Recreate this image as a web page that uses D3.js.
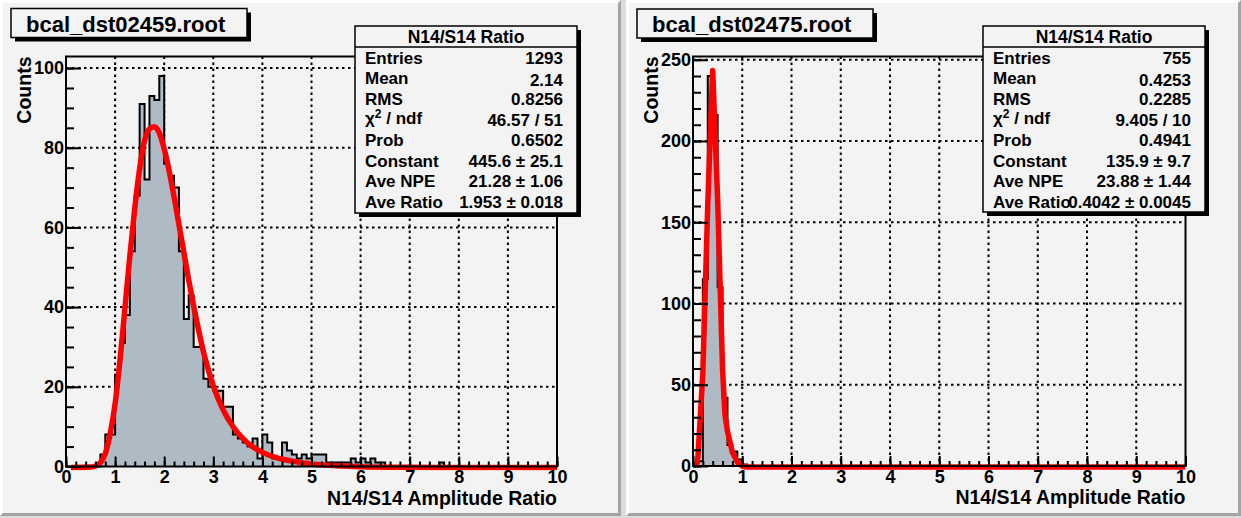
<!DOCTYPE html>
<html><head><meta charset="utf-8">
<script src="https://cdn.jsdelivr.net/npm/d3@7"></script>
<style>
body{margin:0;background:#fff;}
svg{display:block;}
text{font-family:"Liberation Sans",Arial,Helvetica,sans-serif;font-weight:bold;fill:#000;}
</style>
</head><body>
<svg id="c" width="1241" height="518"></svg>
<script>
// ---------------- DATA ----------------
const binWidth = 0.1;
const xTickValues = [0,1,2,3,4,5,6,7,8,9,10];
const xTickLabels = ["0","1","2","3","4","5","6","7","8","9","10"];
const xAxisTitle = "N14/S14 Amplitude Ratio";
const yAxisTitle = "Counts";
const statsTitle = "N14/S14 Ratio";

// left: bcal_dst02459.root, 100 bins 0..10
const leftTitle = "bcal_dst02459.root";
const leftCounts = [
  0,0,0,0,0,0,0,3,8,8,
  23,31,38,54,68,91,72,93,92,98,
  76,73,70,54,37,43,30,30,22,20,
  19,19,15,15,8,7,6,5,7,2,
  8,6,2,2,6,4,3,2,3,2,
  3,3,3,1,1,1,1,1,2,1,
  2,1,2,1,1,0,0,0,0,0,
  0,0,0,0,0,0,1,0,0,0,
  0,0,0,0,0,0,0,0,0,0,
  0,0,0,0,0,0,0,0,0,0
];
const leftFitX = [0.1,0.5,0.6,0.7,0.8,0.9,1.0,1.1,1.2,1.3,1.4,1.5,1.6,1.7,1.8,1.9,2.0,2.1,2.2,2.3,2.4,2.5,2.6,2.7,2.8,2.9,3.0,3.2,3.4,3.6,3.8,4.0,4.3,4.6,5.0,5.5,6.0,7.0,8.0,10.0];
const leftFitY = [0,0.1,0.4,1.2,3.5,8.5,16,27,40,53,65,75,82,85,85.5,84,80,74.5,68,61,54,47,40.5,34.5,29,24.5,20.5,14.5,10.3,7.3,5.2,3.8,2.4,1.6,0.9,0.45,0.2,0.05,0,0];
const leftYTicks = [0,20,40,60,80,100];
const leftYMinor = 5;
const leftStatLabels = ["Entries","Mean","RMS","χ2 / ndf","Prob","Constant","Ave NPE","Ave Ratio"];
const leftStatValues = ["1293","2.14","0.8256","46.57 / 51","0.6502","445.6 ± 25.1","21.28 ± 1.06","1.953 ± 0.018"];

// right: bcal_dst02475.root
const rightTitle = "bcal_dst02475.root";
const rightCounts = [
  0,3,115,240,216,110,42,13,9,4,
  1,0,0,0,0,0,0,0,0,0,
  0,0,0,0,0,0,0,0,0,0,
  0,0,0,0,0,0,0,0,0,0,
  0,0,0,0,0,0,0,0,0,0,
  0,0,0,0,0,0,0,0,0,0,
  0,0,0,0,0,0,0,0,0,0,
  0,0,0,0,0,0,0,0,0,0,
  0,0,0,0,0,0,0,0,0,0,
  0,0,0,0,0,0,0,0,0,0
];
const rightFitX = [0.07,0.1,0.2,0.3,0.4,0.5,0.6,0.65,0.7,0.8,0.9,1.0,1.1,10.0];
const rightFitY = [0,6,58,162,244,165,60,32,22,9,3,0.5,0,0];
const rightYTicks = [0,50,100,150,200,250];
const rightYMinor = 10;
const rightStatLabels = ["Entries","Mean","RMS","χ2 / ndf","Prob","Constant","Ave NPE","Ave Ratio"];
const rightStatValues = ["755","0.4253","0.2285","9.405 / 10","0.4941","135.9 ± 9.7","23.88 ± 1.44","0.4042 ± 0.0045"];

// ---------------- DRAW ----------------
const svg = d3.select("#c");
const PAD_BG = "#f3f3f3";
const HIST_FILL = "#aebbc5";

svg.append("rect").attr("width",1241).attr("height",518).attr("fill","#dcdcdc");

function drawPad(x0, y0, w, h){
  const g = svg.append("g");
  g.append("rect").attr("x",x0).attr("y",y0).attr("width",w).attr("height",h).attr("fill",PAD_BG);
  const b = 3;
  g.append("path").attr("fill","#ffffff")
    .attr("d",`M${x0},${y0+h}L${x0},${y0}L${x0+w},${y0}L${x0+w-b},${y0+b}L${x0+b},${y0+b}L${x0+b},${y0+h-b}Z`);
  g.append("path").attr("fill","#a4a4a4")
    .attr("d",`M${x0+w},${y0}L${x0+w},${y0+h}L${x0},${y0+h}L${x0+b},${y0+h-b}L${x0+w-b},${y0+h-b}L${x0+w-b},${y0+b}Z`);
}

function panel(o){
  const g = svg.append("g");
  const x = d3.scaleLinear().domain([0,10]).range(o.xr);
  const y = d3.scaleLinear().domain([0,o.ymax]).range([o.yb,o.yt]);
  const [fx0,fx1] = o.xr, fy0 = o.yt, fy1 = o.yb;
  const id = "clip"+o.key;
  svg.append("defs").append("clipPath").attr("id",id).append("rect")
    .attr("x",fx0).attr("y",fy0).attr("width",fx1-fx0).attr("height",fy1-fy0+4);

  // grid (under histogram)
  const grid = g.append("g").attr("stroke","#000").attr("stroke-width",2).attr("stroke-dasharray","2.5,3.5");
  grid.selectAll("line.gx").data(xTickValues.filter(v=>v>0&&v<10)).join("line")
    .attr("x1",d=>x(d)).attr("x2",d=>x(d)).attr("y1",fy0).attr("y2",fy1);
  grid.selectAll("line.gy").data(o.yTicks.filter(v=>v>0)).join("line")
    .attr("y1",d=>y(d)).attr("y2",d=>y(d)).attr("x1",fx0).attr("x2",fx1);

  // histogram
  const pts = [];
  o.counts.forEach((c,i)=>{ pts.push([i*binWidth,c]); pts.push([(i+1)*binWidth,c]); });
  const hg = g.append("g").attr("clip-path",`url(#${id})`);
  hg.append("path").datum(pts)
    .attr("d", d3.area().x(d=>x(d[0])).y0(y(0)).y1(d=>y(d[1])))
    .attr("fill",HIST_FILL);
  hg.append("path").datum(pts)
    .attr("d", d3.line().x(d=>x(d[0])).y(d=>y(d[1])))
    .attr("fill","none").attr("stroke","#000").attr("stroke-width",2);

  // fit
  const fit = o.fitX.map((v,i)=>[v,o.fitY[i]]);
  hg.append("path").datum(fit)
    .attr("d", d3.line().x(d=>x(d[0])).y(d=>y(d[1])+1).curve(o.smooth?d3.curveMonotoneX:d3.curveLinear))
    .attr("fill","none").attr("stroke","#ff0000").attr("stroke-width",5.5)
    .attr("stroke-linejoin","round");

  // frame
  g.append("rect").attr("x",fx0).attr("y",fy0).attr("width",fx1-fx0).attr("height",fy1-fy0)
    .attr("fill","none").attr("stroke","#000").attr("stroke-width",2);

  // x axis minor ticks
  const xMinor = d3.range(0,10.0001,0.2);
  const xa = g.append("g").attr("transform",`translate(0,${fy1})`);
  xa.call(d3.axisBottom(x).tickValues(xMinor).tickSizeInner(-5).tickSizeOuter(0).tickFormat(""));
  const xb = g.append("g").attr("transform",`translate(0,${fy1})`);
  xb.call(d3.axisBottom(x).tickValues(xTickValues).tickSizeInner(-10).tickSizeOuter(0)
    .tickPadding(4).tickFormat((d,i)=>xTickLabels[i]));
  // y axis
  const yMinorVals = d3.range(0,o.ymax,o.yMinor);
  const ya = g.append("g").attr("transform",`translate(${fx0},0)`);
  ya.call(d3.axisLeft(y).tickValues(yMinorVals).tickSizeInner(-8).tickSizeOuter(0).tickFormat(""));
  const yb = g.append("g").attr("transform",`translate(${fx0},0)`);
  yb.call(d3.axisLeft(y).tickValues(o.yTicks).tickSizeInner(-15).tickSizeOuter(0)
    .tickPadding(2).tickFormat(d3.format("d")));
  [xa,xb,ya,yb].forEach(a=>{
    a.select(".domain").remove();
    a.selectAll(".tick line").attr("stroke","#000").attr("stroke-width",2);
    a.selectAll(".tick text").attr("font-size",18).attr("font-family",'"Liberation Sans",Arial,sans-serif')
      .attr("font-weight","bold").attr("fill","#000");
  });

  // axis titles
  g.append("text").attr("x",fx1).attr("y",fy1+38).attr("text-anchor","end")
    .attr("font-size",19.5).text(xAxisTitle);
  g.append("text").attr("transform",`translate(${fx0-35},${fy0}) rotate(-90)`)
    .attr("text-anchor","end").attr("font-size",19.5).text(yAxisTitle);

  // title box
  const tb = o.titleBox;
  g.append("rect").attr("x",tb[0]+4).attr("y",tb[1]+4).attr("width",tb[2]).attr("height",tb[3]).attr("fill","#000");
  g.append("rect").attr("x",tb[0]).attr("y",tb[1]).attr("width",tb[2]).attr("height",tb[3])
    .attr("fill",PAD_BG).attr("stroke","#000").attr("stroke-width",1.5);
  g.append("text").attr("x",tb[0]+15).attr("y",tb[1]+23).attr("font-size",22).text(o.title);

  // stats box
  const sb = o.statBox;
  g.append("rect").attr("x",sb[0]+4).attr("y",sb[1]+4).attr("width",sb[2]).attr("height",sb[3]).attr("fill","#000");
  g.append("rect").attr("x",sb[0]).attr("y",sb[1]).attr("width",sb[2]).attr("height",sb[3])
    .attr("fill",PAD_BG).attr("stroke","#000").attr("stroke-width",1.5);
  g.append("line").attr("x1",sb[0]).attr("x2",sb[0]+sb[2]).attr("y1",sb[1]+21).attr("y2",sb[1]+21)
    .attr("stroke","#000").attr("stroke-width",1.5);
  g.append("text").attr("x",sb[0]+sb[2]/2).attr("y",sb[1]+16.5).attr("text-anchor","middle")
    .attr("font-size",17.5).attr("font-weight","normal").text(statsTitle);
  o.statLabels.forEach((lab,i)=>{
    const cy = sb[1] + 31.7 + i*20.6;
    const t = g.append("text").attr("x",sb[0]+10).attr("y",cy+6).attr("font-size",17);
    if(lab.startsWith("χ2")){
      t.attr("y",cy+4);
      t.append("tspan").text("χ");
      t.append("tspan").attr("dy",-6).attr("font-size",12).text("2");
      t.append("tspan").attr("dy",6).text(" / ndf");
    } else t.text(lab);
    g.append("text").attr("x",sb[0]+sb[2]-14).attr("y",cy+6+(i===1?2:0)).attr("text-anchor","end")
      .attr("font-size",17).text(o.statValues[i]);
  });
}

drawPad(0,0,621,516);
drawPad(626,0,615,516);

panel({key:"L", xr:[66,557], yt:56.5, yb:466.5, ymax:102.9, yTicks:leftYTicks, yMinor:leftYMinor,
  counts:leftCounts, fitX:leftFitX, fitY:leftFitY, smooth:true,
  title:leftTitle, titleBox:[11,8.5,236,29], statBox:[355,26,222,187],
  statLabels:leftStatLabels, statValues:leftStatValues});
panel({key:"R", xr:[693,1185.5], yt:56.5, yb:466, ymax:252, yTicks:rightYTicks, yMinor:rightYMinor,
  counts:rightCounts, fitX:rightFitX, fitY:rightFitY, smooth:false,
  title:rightTitle, titleBox:[637,9,236,29], statBox:[983,26,222,186],
  statLabels:rightStatLabels, statValues:rightStatValues});
</script>
</body></html>
